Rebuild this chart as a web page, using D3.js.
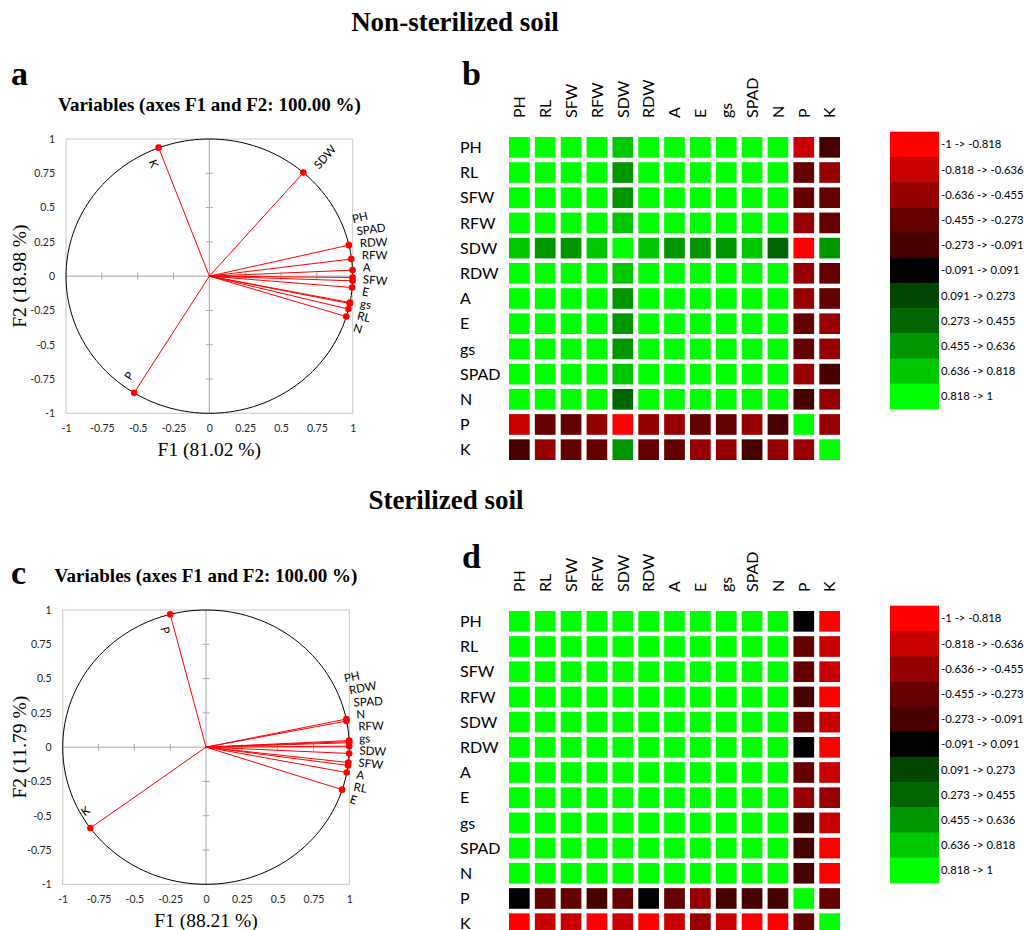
<!DOCTYPE html>
<html>
<head>
<meta charset="utf-8">
<script src="https://cdn.jsdelivr.net/npm/d3@7"></script>
<style>
  body { margin: 0; background: #fff; }
  .serif { font-family: "Liberation Serif", "Times New Roman", serif; }
  .sans { font-family: Lato, "Open Sans", sans-serif; }
</style>
</head>
<body>
<svg id="chart" width="1025" height="930"></svg>
<script>
// variables (same order for loadings and correlation matrices)
var vars = ["PH", "RL", "SFW", "RFW", "SDW", "RDW", "A", "E", "gs", "SPAD", "N", "P", "K"];

// loadings, non-sterilized soil (plot a)
var nsF1 = [0.973, 0.970, 0.996, 0.999, 0.656, 0.999, 0.999, 0.981, 0.979, 0.990, 0.955, -0.525, -0.354];
var nsF2 = [0.226, -0.240, -0.083, -0.010, 0.755, 0.044, -0.034, -0.192, -0.200, 0.125, -0.294, -0.851, 0.937];

// loadings, sterilized soil (plot c)
var stF1 = [0.980, 0.982, 0.993, 0.999, 0.999, 0.980, 0.991, 0.950, 0.999, 0.999, 0.999, -0.250, -0.807];
var stF2 = [0.205, -0.185, -0.112, 0.032, -0.046, 0.190, -0.133, -0.310, 0.007, 0.048, 0.040, 0.968, -0.590];

// correlation matrices read from the coloured cells (b and d)
var nsCorr = [
  [1, .95, .95, .95, .70, .95, .95, .95, .95, .95, .95, -.70, -.15],
  [.95, 1, .95, .95, .50, .95, .95, .95, .95, .95, .95, -.35, -.55],
  [.95, .95, 1, .95, .55, .95, .95, .95, .95, .95, .95, -.40, -.40],
  [.95, .95, .95, 1, .65, .95, .95, .95, .95, .95, .95, -.50, -.35],
  [.70, .50, .55, .65, 1, .70, .60, .50, .50, .75, .40, -.98, .50],
  [.95, .95, .95, .95, .70, 1, .95, .95, .95, .95, .95, -.55, -.30],
  [.95, .95, .95, .95, .60, .95, 1, .95, .95, .95, .95, -.50, -.40],
  [.95, .95, .95, .95, .50, .95, .95, 1, .95, .95, .95, -.35, -.55],
  [.95, .95, .95, .95, .50, .95, .95, .95, 1, .95, .95, -.35, -.55],
  [.95, .95, .95, .95, .75, .95, .95, .95, .95, 1, .95, -.60, -.20],
  [.95, .95, .95, .95, .40, .95, .95, .95, .95, .95, 1, -.25, -.60],
  [-.70, -.35, -.40, -.50, -.98, -.55, -.50, -.35, -.35, -.60, -.25, 1, -.60],
  [-.15, -.55, -.40, -.35, .50, -.30, -.40, -.55, -.55, -.20, -.60, -.60, 1]
];
var stCorr = [
  [1, .95, .95, .95, .95, .95, .95, .95, .95, .95, .95, .00, -.90],
  [.95, 1, .95, .95, .95, .95, .95, .95, .95, .95, .95, -.40, -.75],
  [.95, .95, 1, .95, .95, .95, .95, .95, .95, .95, .95, -.40, -.70],
  [.95, .95, .95, 1, .95, .95, .95, .95, .95, .95, .95, -.20, -.85],
  [.95, .95, .95, .95, 1, .95, .95, .95, .95, .95, .95, -.35, -.75],
  [.95, .95, .95, .95, .95, 1, .95, .95, .95, .95, .95, .00, -.90],
  [.95, .95, .95, .95, .95, .95, 1, .95, .95, .95, .95, -.40, -.75],
  [.95, .95, .95, .95, .95, .95, .95, 1, .95, .95, .95, -.55, -.60],
  [.95, .95, .95, .95, .95, .95, .95, .95, 1, .95, .95, -.20, -.80],
  [.95, .95, .95, .95, .95, .95, .95, .95, .95, 1, .95, -.20, -.85],
  [.95, .95, .95, .95, .95, .95, .95, .95, .95, .95, 1, -.20, -.85],
  [.00, -.40, -.40, -.20, -.35, .00, -.40, -.55, -.20, -.20, -.20, 1, -.35],
  [-.90, -.75, -.70, -.85, -.75, -.90, -.75, -.60, -.80, -.85, -.85, -.35, 1]
];

// colour classes
var binEdges = [-0.818, -0.636, -0.455, -0.273, -0.091, 0.091, 0.273, 0.455, 0.636, 0.818];
var binColors = ["#ff0000", "#c80000", "#960000", "#640000", "#460000", "#000000",
                 "#004600", "#006400", "#009600", "#00c800", "#00ff00"];
var binLabels = ["-1 -> -0.818", "-0.818 -> -0.636", "-0.636 -> -0.455", "-0.455 -> -0.273",
                 "-0.273 -> -0.091", "-0.091 -> 0.091", "0.091 -> 0.273", "0.273 -> 0.455",
                 "0.455 -> 0.636", "0.636 -> 0.818", "0.818 -> 1"];

var axisTicks = [-1, -0.75, -0.5, -0.25, 0, 0.25, 0.5, 0.75, 1];

var svg = d3.select("#chart");
svg.append("rect").attr("width", 1025).attr("height", 930).attr("fill", "#fff");

var color = d3.scaleThreshold().domain(binEdges).range(binColors);

function deg(r) { return r * 180 / Math.PI; }

// correlation circle
function drawCircle(p) {
  var x = d3.scaleLinear().domain([-1, 1]).range([p.left, p.right]);
  var y = d3.scaleLinear().domain([-1, 1]).range([p.bottom, p.top]);
  var g = svg.append("g");

  // frame
  g.append("rect")
      .attr("x", p.left).attr("y", p.top)
      .attr("width", p.right - p.left).attr("height", p.bottom - p.top)
      .attr("fill", "none").attr("stroke", "#c8c8c8");

  // tick labels
  var yAxis = d3.axisLeft(y).tickValues(axisTicks).tickSize(0).tickPadding(11)
      .tickFormat(function(d) { return String(d); });
  var xAxis = d3.axisBottom(x).tickValues(axisTicks).tickSize(0).tickPadding(11)
      .tickFormat(function(d) { return String(d); });
  [g.append("g").attr("transform", "translate(" + p.left + ",0)").call(yAxis),
   g.append("g").attr("transform", "translate(0," + p.bottom + ")").call(xAxis)]
    .forEach(function(a) {
      a.select(".domain").remove();
      a.selectAll("text").attr("class", "sans").attr("font-family", null)
        .attr("font-size", 10.5).attr("fill", "#262626");
    });

  // zero axes with small ticks
  g.append("line").attr("x1", x(0)).attr("x2", x(0)).attr("y1", y(-1)).attr("y2", y(1))
      .attr("stroke", "#a6a6a6");
  g.append("line").attr("x1", x(-1)).attr("x2", x(1)).attr("y1", y(0)).attr("y2", y(0))
      .attr("stroke", "#a6a6a6");
  var inner = axisTicks.filter(function(t) { return t !== 0 && Math.abs(t) < 1; });
  g.selectAll(".vt").data(inner).enter().append("line")
      .attr("x1", x(0) - 3.5).attr("x2", x(0) + 3.5)
      .attr("y1", function(t) { return y(t); }).attr("y2", function(t) { return y(t); })
      .attr("stroke", "#a6a6a6");
  g.selectAll(".ht").data(inner).enter().append("line")
      .attr("y1", y(0) - 3.5).attr("y2", y(0) + 3.5)
      .attr("x1", function(t) { return x(t); }).attr("x2", function(t) { return x(t); })
      .attr("stroke", "#a6a6a6");

  // unit circle
  var ring = d3.range(0, 361, 2).map(function(a) {
    return [x(Math.cos(a * Math.PI / 180)), y(Math.sin(a * Math.PI / 180))];
  });
  g.append("path").attr("d", d3.line()(ring)).attr("fill", "none")
      .attr("stroke", "#000").attr("stroke-width", 1);

  var pts = vars.map(function(v, i) { return {name: v, f1: p.f1[i], f2: p.f2[i]}; });

  // vectors
  g.selectAll(".vec").data(pts).enter().append("line")
      .attr("x1", x(0)).attr("y1", y(0))
      .attr("x2", function(d) { return x(d.f1); })
      .attr("y2", function(d) { return y(d.f2); })
      .attr("stroke", "#ff0000").attr("stroke-width", 1);
  g.selectAll(".dot").data(pts).enter().append("circle")
      .attr("cx", function(d) { return x(d.f1); })
      .attr("cy", function(d) { return y(d.f2); })
      .attr("r", 3.3).attr("fill", "#ff0000");

  // labels: the crowded ones on the right are spread along an outer arc
  var cx = x(0), cy = y(0), R = 1.07 * (x(1) - x(0));
  var cluster = pts.filter(function(d) { return d.f1 > 0.9; })
      .sort(function(a, b) { return b.f2 - a.f2; });
  var mid = d3.mean(cluster, function(d) { return y(d.f2); }) - 8;
  cluster.forEach(function(d, i) {
    d.ly = mid + (i - (cluster.length - 1) / 2) * 12;
    d.lx = cx + Math.sqrt(R * R - (d.ly - cy) * (d.ly - cy));
  });
  g.selectAll(".clab").data(cluster).enter().append("text")
      .attr("class", "sans").attr("font-size", 11.5).attr("fill", "#000")
      .attr("transform", function(d) {
        return "translate(" + d.lx + "," + d.ly + ") rotate(" + (-deg(Math.atan2(d.f2, d.f1))) + ")";
      })
      .text(function(d) { return d.name; });

  var others = pts.filter(function(d) { return d.f1 <= 0.9; });
  g.selectAll(".olab").data(others).enter().append("text")
      .attr("class", "sans").attr("font-size", 11.5).attr("fill", "#000")
      .attr("text-anchor", "middle").attr("dy", "0.35em")
      .attr("transform", function(d) {
        var th = Math.atan2(d.f2, d.f1), px = x(d.f1), py = y(d.f2), lx, ly, rot;
        if (d.f1 >= 0) {
          // outward along the vector, nudged to the lower side of the text
          lx = px + 26 * Math.cos(th) + 6 * Math.sin(th);
          ly = py - 26 * Math.sin(th) + 6 * Math.cos(th);
          rot = -deg(th);
        } else {
          lx = px - 5; ly = py + (d.f2 > 0 ? 16 : -17);
          var a = deg(th); if (a < 0) a += 360;
          rot = 180 - a;
        }
        return "translate(" + lx + "," + ly + ") rotate(" + rot + ")";
      })
      .text(function(d) { return d.name; });

  // titles
  g.append("text").attr("class", "serif").attr("font-weight", "bold").attr("font-size", 19)
      .attr("text-anchor", "middle").attr("x", (p.left + p.right) / 2).attr("y", p.top - 28)
      .text("Variables (axes F1 and F2: 100.00 %)");
  g.append("text").attr("class", "serif").attr("font-size", 19.5)
      .attr("text-anchor", "middle").attr("x", x(0)).attr("y", p.bottom + 43)
      .text(p.xTitle);
  g.append("text").attr("class", "serif").attr("font-size", 19.5)
      .attr("text-anchor", "middle")
      .attr("transform", "translate(26," + y(0) + ") rotate(-90)")
      .text(p.yTitle);
  g.append("text").attr("class", "serif").attr("font-weight", "bold").attr("font-size", 34)
      .attr("x", 11).attr("y", p.letterY).text(p.letter);
}

// correlation heat map with legend
function drawHeat(p) {
  var x = d3.scaleBand().domain(vars).range([509, 840]).paddingInner(0.2).paddingOuter(0);
  var y = d3.scaleBand().domain(vars).range([p.top, p.top + 323]).paddingInner(0.18).paddingOuter(0);
  var g = svg.append("g");
  var cells = [];
  p.corr.forEach(function(row, i) {
    row.forEach(function(v, j) { cells.push({r: vars[i], c: vars[j], v: v}); });
  });
  g.selectAll(".cell").data(cells).enter().append("rect")
      .attr("x", function(d) { return x(d.c); })
      .attr("y", function(d) { return y(d.r); })
      .attr("width", x.bandwidth()).attr("height", y.bandwidth())
      .attr("fill", function(d) { return color(d.v); });

  g.selectAll(".rl").data(vars).enter().append("text")
      .attr("class", "sans").attr("font-size", 16).attr("fill", "#000")
      .attr("x", 460).attr("y", function(d) { return y(d) + y.bandwidth() / 2; })
      .attr("dy", "0.36em").text(function(d) { return d; });
  g.selectAll(".cl").data(vars).enter().append("text")
      .attr("class", "sans").attr("font-size", 16).attr("fill", "#000")
      .attr("dy", "0.36em")
      .attr("transform", function(d) {
        return "translate(" + (x(d) + x.bandwidth() / 2) + "," + (p.top - 19) + ") rotate(-90)";
      })
      .text(function(d) { return d; });

  // legend
  var ly = d3.scaleBand().domain(binLabels).range([p.top - 5.3, p.top - 5.3 + 277.2]);
  g.selectAll(".lg").data(binLabels).enter().append("rect")
      .attr("x", 890).attr("y", function(d) { return ly(d); })
      .attr("width", 49).attr("height", ly.bandwidth() + 0.5)
      .attr("fill", function(d, i) { return binColors[i]; });
  g.selectAll(".lt").data(binLabels).enter().append("text")
      .attr("class", "sans").attr("font-size", 11.3).attr("fill", "#000")
      .attr("x", 941).attr("y", function(d) { return ly(d) + ly.bandwidth() / 2; })
      .attr("dy", "0.36em").text(function(d) { return d; });

  g.append("text").attr("class", "serif").attr("font-weight", "bold").attr("font-size", 34)
      .attr("x", 462).attr("y", p.letterY).text(p.letter);
}

svg.append("text").attr("class", "serif").attr("font-weight", "bold").attr("font-size", 27)
    .attr("text-anchor", "middle").attr("x", 455).attr("y", 31).text("Non-sterilized soil");
svg.append("text").attr("class", "serif").attr("font-weight", "bold").attr("font-size", 27)
    .attr("text-anchor", "middle").attr("x", 446).attr("y", 509).text("Sterilized soil");

drawCircle({left: 66, right: 352.7, top: 139, bottom: 413.3, f1: nsF1, f2: nsF2,
            xTitle: "F1 (81.02 %)", yTitle: "F2 (18.98 %)", letter: "a", letterY: 85});
drawCircle({left: 62.7, right: 349.3, top: 610, bottom: 884.3, f1: stF1, f2: stF2,
            xTitle: "F1 (88.21 %)", yTitle: "F2 (11.79 %)", letter: "c", letterY: 584});
drawHeat({top: 137, corr: nsCorr, letter: "b", letterY: 85});
drawHeat({top: 611, corr: stCorr, letter: "d", letterY: 568});
</script>
</body>
</html>
